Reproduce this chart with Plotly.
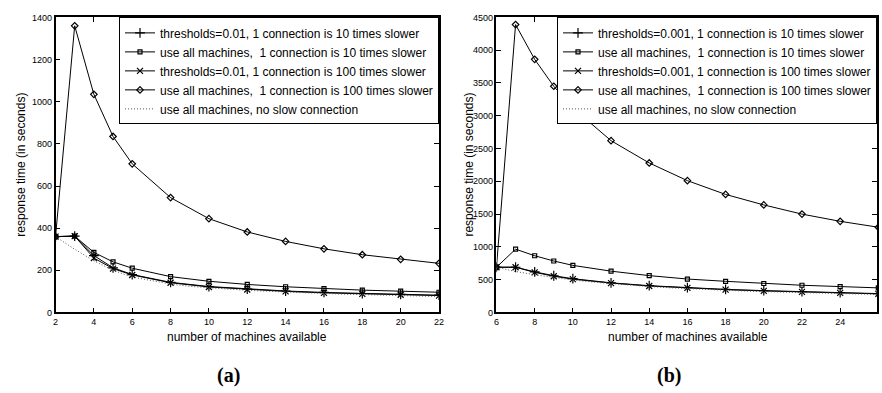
import plotly.graph_objects as go

# ---------------- data: panel (a) ----------------
x_a = [2, 3, 4, 5, 6, 8, 10, 12, 14, 16, 18, 20, 22]
a_thr10 = [360, 362, 270, 212, 180, 143, 123, 111, 102, 95, 90, 86, 82]
a_all10 = [360, 362, 285, 240, 210, 170, 148, 133, 122, 113, 106, 101, 96]
a_thr100 = [360, 362, 258, 208, 178, 141, 121, 109, 100, 93, 88, 84, 80]
a_all100 = [360, 1360, 1035, 835, 705, 545, 445, 382, 337, 302, 274, 252, 233]
x_a_base = list(range(2, 23))
a_base = [360, 300, 245, 200, 168, 150, 135, 124, 117, 111, 105, 101, 97, 93, 90,
          87, 85, 82, 80, 78, 76]

# ---------------- data: panel (b) ----------------
x_b = [6, 7, 8, 9, 10, 12, 14, 16, 18, 20, 22, 24, 26]
b_thr10 = [690, 690, 620, 560, 515, 452, 408, 378, 352, 333, 318, 302, 288]
b_all10 = [690, 965, 865, 785, 718, 630, 562, 510, 475, 442, 415, 395, 375]
b_thr100 = [690, 690, 612, 553, 508, 448, 404, 374, 348, 329, 314, 298, 284]
b_all100 = [690, 4390, 3860, 3450, 3120, 2620, 2280, 2010, 1800, 1640, 1500, 1390, 1300]
x_b_base = list(range(6, 27))
b_base = [690, 625, 575, 530, 495, 465, 438, 415, 395, 378, 363, 350, 338, 327, 318,
          309, 301, 294, 287, 281, 275]

names_a = ["thresholds=0.01, 1 connection is 10 times slower",
           "use all machines,\u00a0 1 connection is 10 times slower",
           "thresholds=0.01, 1 connection is 100 times slower",
           "use all machines,\u00a0 1 connection is 100 times slower",
           "use all machines, no slow connection"]
names_b = ["thresholds=0.001, 1 connection is 10 times slower",
           "use all machines,\u00a0 1 connection is 10 times slower",
           "thresholds=0.001, 1 connection is 100 times slower",
           "use all machines,\u00a0 1 connection is 100 times slower",
           "use all machines, no slow connection"]

x_ticks_a = list(range(2, 23, 2))
x_ticks_b = list(range(6, 27, 2))
y_ticks_a = list(range(0, 1401, 200))
y_ticks_b = list(range(0, 4501, 500))

W, H = 882, 393
BLACK = "black"
styles = [
    dict(symbol="cross-thin-open", size=7, line=dict(width=1.2, color=BLACK)),
    dict(symbol="square-open", size=4, line=dict(width=1.2, color=BLACK)),
    dict(symbol="x-thin-open", size=6, line=dict(width=1.2, color=BLACK)),
    dict(symbol="diamond-open", size=5, line=dict(width=1.2, color=BLACK)),
]

fig = go.Figure()


def add_panel(xv, series, xbase, base, names, xa, ya, leg):
    for vals, st, nm in zip(series, styles, names[:4]):
        fig.add_trace(go.Scatter(x=xv, y=vals, mode="lines+markers", name=nm,
                                 line=dict(color=BLACK, width=1),
                                 marker=dict(color=BLACK, **st),
                                 xaxis=xa, yaxis=ya, legend=leg))
    fig.add_trace(go.Scatter(x=xbase, y=base, mode="lines", name=names[4],
                             line=dict(color="#555555", width=1, dash="1px,2px"),
                             xaxis=xa, yaxis=ya, legend=leg))


add_panel(x_a, [a_thr10, a_all10, a_thr100, a_all100], x_a_base, a_base, names_a,
          "x", "y", "legend")
add_panel(x_b, [b_thr10, b_all10, b_thr100, b_all100], x_b_base, b_base, names_b,
          "x2", "y2", "legend2")

tickfont = dict(family="Liberation Sans Narrow, Arial Narrow, Liberation Sans, Arial",
                size=9, color=BLACK)
ax_common = dict(showline=True, linecolor=BLACK, linewidth=1.5, mirror="ticks",
                 ticks="inside", ticklen=5, tickcolor=BLACK, tickwidth=1,
                 showgrid=False, zeroline=False, tickfont=tickfont)

y_dom = [1 - 315.5 / H, 1 - 12.7 / H]
leg_common = dict(yanchor="top", y=y_dom[1], xanchor="right", bgcolor="white",
                  bordercolor=BLACK, borderwidth=1, font=dict(size=12),
                  tracegroupgap=0, itemwidth=30)
fig.update_layout(
    width=W, height=H, margin=dict(l=0, r=0, t=0, b=0),
    paper_bgcolor="white", plot_bgcolor="white",
    font=dict(family="Liberation Sans, Arial, sans-serif", size=12, color=BLACK),
    xaxis=dict(domain=[53 / W, 440 / W], range=[2, 22], tickvals=x_ticks_a,
               anchor="y", **ax_common),
    yaxis=dict(domain=y_dom, range=[0, 1400], tickvals=y_ticks_a, anchor="x",
               **ax_common),
    xaxis2=dict(domain=[498 / W, 1.0], range=[6, 25.93], tickvals=x_ticks_b,
                anchor="y2", **ax_common),
    yaxis2=dict(domain=y_dom, range=[0, 4500], tickvals=y_ticks_b, anchor="x2",
                **ax_common),
    legend=dict(x=440 / W, **leg_common),
    legend2=dict(x=1.0, **leg_common),
)

ann = []
for xc in (18, 470):
    ann.append(dict(text="response time (in seconds)", x=xc / W, y=1 - 164 / H,
                    xref="paper", yref="paper", showarrow=False, textangle=-90,
                    xanchor="center", yanchor="middle", font=dict(size=12)))
for xc in (246.5, 691):
    ann.append(dict(text="number of machines available", x=xc / W, y=1 - 341 / H,
                    xref="paper", yref="paper", showarrow=False,
                    xanchor="center", yanchor="middle", font=dict(size=12)))
for xc, lab in ((228, "(a)"), (672, "(b)")):
    ann.append(dict(text="<b>%s</b>" % lab, x=xc / W, y=1 - 380 / H,
                    xref="paper", yref="paper", showarrow=False,
                    xanchor="center", yanchor="middle",
                    font=dict(family="Liberation Serif, Times New Roman, serif",
                              size=20)))
fig.update_layout(annotations=ann)

fig.write_html("out.html",
               config={"displayModeBar": False},
               post_script="document.body.style.margin='0';"
                           "document.body.style.overflow='hidden';")
